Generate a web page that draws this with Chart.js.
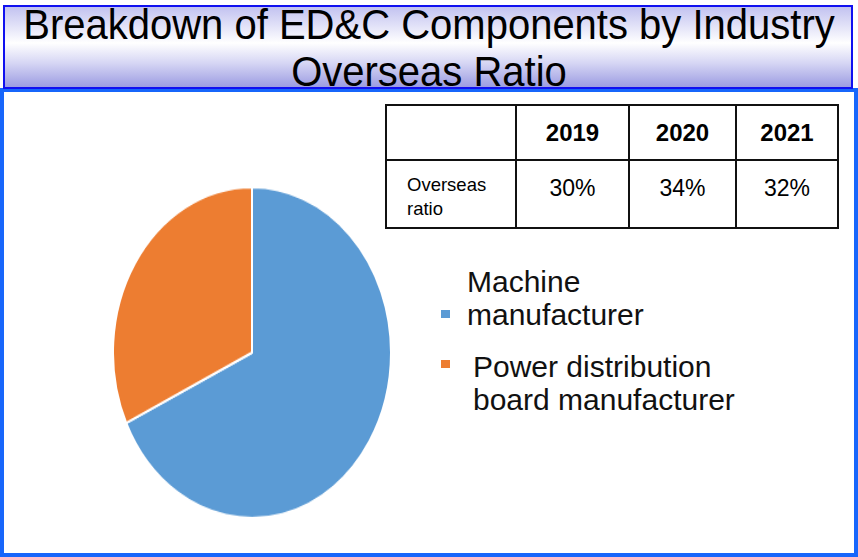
<!DOCTYPE html>
<html>
<head>
<meta charset="utf-8">
<script src="https://cdn.jsdelivr.net/npm/chart.js@4/dist/chart.umd.min.js"></script>
<style>
  html, body { margin: 0; padding: 0; background: #fff; }
  body { width: 858px; height: 557px; position: relative; overflow: hidden; font-family: "Liberation Sans", Arial, sans-serif; }
  #frame { position: absolute; left: 0; top: 88px; width: 850px; height: 461px; border: 4px solid #1766fb; }
  #banner { position: absolute; left: 3px; top: 5px; width: 846px; height: 80px; border: 2px solid #1010f0;
    background: linear-gradient(to bottom, #c2c2f0 0%, #ffffff 45%, #d6d6f4 70%, #9c9ce2 100%); }
  .title { position: absolute; left: 0; width: 858px; text-align: center; font-size: 40px; line-height: 46px; color: #000;
    transform: scaleY(1.08); transform-origin: 50% 0; }
  #pieWrap { position: absolute; left: 112px; top: 186px; width: 280px; height: 280px; transform: scaleY(1.19); transform-origin: 0 0; }
  #ratioTable { position: absolute; left: 385px; top: 104px; border-collapse: collapse; table-layout: fixed; background: #fff; }
  #ratioTable td { border: 2px solid #111; padding: 0; }
  #ratioTable .head td { height: 53px; text-align: center; vertical-align: middle; font-weight: bold; font-size: 24px; }
  #ratioTable .val td { height: 68px; text-align: center; vertical-align: top; font-size: 23px; line-height: 26px; padding-top: 14px; box-sizing: border-box; }
  #ratioTable .val td.rowHead { text-align: left; font-size: 18.5px; line-height: 24px; padding-left: 20px; padding-top: 12px; }
  .legItem { position: absolute; font-size: 30px; line-height: 33px; color: #111; }
  .legBox { position: absolute; width: 9px; height: 8px; }
</style>
</head>
<body>
<div id="frame"></div>
<div id="banner"></div>
<div class="title" style="top:-1px">Breakdown of ED&amp;C Components by Industry</div>
<div class="title" style="top:46px">Overseas Ratio</div>

<div id="pieWrap"><canvas id="pie" width="280" height="280"></canvas></div>

<table id="ratioTable"></table>
<div id="legend"></div>

<script>
// pie: share of components by customer industry
const industries = [["Machine", "manufacturer"], ["Power distribution", "board manufacturer"]];
const shares = [68, 32];
const colors = ['#5b9bd5', '#ed7d31'];

// overseas ratio table
const years = ['2019', '2020', '2021'];
const overseasRatio = [30, 34, 32];
const ratioLabel = ['Overseas', 'ratio'];

new Chart(document.getElementById('pie').getContext('2d'), {
  type: 'pie',
  data: {
    labels: industries.map(l => l.join(' ')),
    datasets: [{
      data: shares,
      backgroundColor: colors,
      borderColor: '#ffffff',
      borderWidth: 2
    }]
  },
  options: {
    responsive: false,
    animation: false,
    layout: { padding: 0 },
    plugins: { legend: { display: false }, tooltip: { enabled: false } }
  }
});

// table rows
const colW = [130, 113, 107, 102];
const tbl = document.getElementById('ratioTable');
tbl.innerHTML =
  '<colgroup>' + colW.map(w => `<col style="width:${w}px">`).join('') + '</colgroup>' +
  '<tr class="head"><td></td>' + years.map(y => `<td>${y}</td>`).join('') + '</tr>' +
  `<tr class="val"><td class="rowHead">${ratioLabel.join('<br>')}</td>` +
  overseasRatio.map(v => `<td>${v}%</td>`).join('') + '</tr>';

// legend on the right
const legTops = [265, 350];
const legBoxTops = [310, 360];
const legTextX = [467, 473];
document.getElementById('legend').innerHTML = industries.map((lines, i) =>
  `<div class="legBox" style="left:441px;top:${legBoxTops[i]}px;background:${colors[i]}"></div>` +
  `<div class="legItem" style="left:${legTextX[i]}px;top:${legTops[i]}px">${lines.join('<br>')}</div>`
).join('');
</script>
</body>
</html>
